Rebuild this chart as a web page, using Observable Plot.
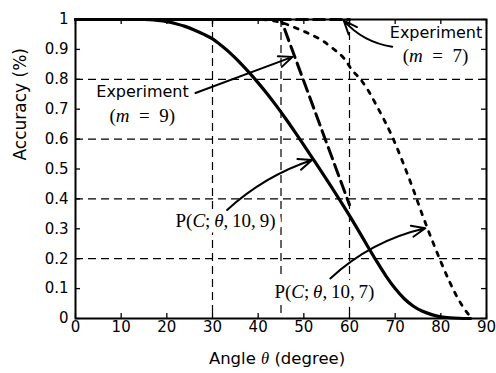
<!DOCTYPE html>
<html>
<head>
<meta charset="utf-8">
<script src="https://cdn.jsdelivr.net/npm/d3@7"></script>
<script src="https://cdn.jsdelivr.net/npm/@observablehq/plot@0.6"></script>
<style>
  html, body { margin: 0; padding: 0; background: #fff; }
  #chart svg { display: block; }
</style>
</head>
<body>
<div id="chart"></div>
<script>
// ---- tick values and labels ----
const xTicks = [0, 10, 20, 30, 40, 50, 60, 70, 80, 90];
const yTicks = [0, 0.1, 0.2, 0.3, 0.4, 0.5, 0.6, 0.7, 0.8, 0.9, 1];
const yTickLabels = ["0", "0.1", "0.2", "0.3", "0.4", "0.5", "0.6", "0.7", "0.8", "0.9", "1"];
const gridX = [30, 45, 60];
const gridY = [0.2, 0.4, 0.6, 0.8];
const xLabel = "Angle θ (degree)";
const yLabel = "Accuracy (%)";

// ---- theory curve P(C; θ, 10, 9) (solid) ----
const thetaP9 = [0, 10, 15, 18, 20, 22, 24, 26, 28, 30, 32, 34, 36, 38, 40, 42, 44, 46, 48, 50, 52, 54, 56, 58, 60, 62, 64, 66, 68, 70, 72, 74, 76, 78, 80, 82, 84, 86.5];
const accP9   = [1, 1, 1, 0.997, 0.993, 0.986, 0.977, 0.965, 0.951, 0.935, 0.912, 0.886, 0.856, 0.823, 0.788, 0.751, 0.711, 0.669, 0.625, 0.58, 0.534, 0.488, 0.441, 0.393, 0.344, 0.293, 0.241, 0.19, 0.142, 0.1, 0.066, 0.041, 0.024, 0.013, 0.006, 0.0025, 0.0008, 0];

// ---- theory curve P(C; θ, 10, 7) (dotted) ----
const thetaP7 = [0, 40, 45, 48.5, 51.5, 54, 56.2, 58.8, 60.6, 62.4, 64.2, 66, 69.6, 72, 74, 76, 78, 80, 82, 84, 86, 87];
const accP7   = [1, 1, 0.99, 0.97, 0.95, 0.93, 0.905, 0.87, 0.83, 0.8, 0.76, 0.71, 0.6, 0.51, 0.43, 0.345, 0.265, 0.19, 0.12, 0.06, 0.015, 0];

// ---- experiments (dashed) ----
const thetaExp = [0, 15, 30, 45, 60];
const accExp9  = [1, 1, 1, 1, 0.38];
const accExp7  = [1, 1, 1, 1, 1];

// ---- annotation texts and their anchor points (data units) ----
const noteText = ["Experiment", "(m\u2002=\u20029)", "Experiment", "(m\u2002=\u20027)", "P(C;\u2009θ,\u200910,\u20099)", "P(C;\u2009θ,\u200910,\u20097)"];
const noteTheta = [14.67, 14.6, 78.94, 78.83, 32.85, 54.5];
const noteAcc   = [0.759, 0.678, 0.954, 0.879, 0.327, 0.088];
const noteSerif = [false, true, false, true, true, true];

// ---- arrows (data units) ----
const arrowX1 = [26.28, 69.35, 33.2, 55.8];
const arrowY1 = [0.754, 0.909, 0.363, 0.134];
const arrowX2 = [47.52, 58.75, 51.8, 76.6];
const arrowY2 = [0.875, 0.996, 0.53, 0.302];
const arrowBend = [0, 20, 12, 15];

// ---- layout ----
const W = 496, H = 373;
const mL = 75, mR = 10, mT = 19, mB = 55;
const innerW = W - mL - mR, innerH = H - mT - mB;
const tickLen = 5;

const toRows = (xs, ys) => xs.map((x, i) => ({theta: x, acc: ys[i]}));

const notesSans = noteText.map((t, i) => i).filter(i => !noteSerif[i]);
const notesSerif = noteText.map((t, i) => i).filter(i => noteSerif[i]);
const serifOpts = {x: i => noteTheta[i], y: i => noteAcc[i], text: i => noteText[i], fontSize: 19, fontFamily: "Liberation Serif"};

const plot = Plot.plot({
  width: W,
  height: H,
  marginLeft: mL,
  marginRight: mR,
  marginTop: mT,
  marginBottom: mB,
  style: {fontFamily: "DejaVu Sans", fontSize: "15px", background: "white", color: "black", overflow: "visible"},
  x: {domain: [0, 90]},
  y: {domain: [0, 1]},
  marks: [
    // dashed grid
    Plot.ruleY(gridY, {stroke: "black", strokeWidth: 1.2, strokeDasharray: "8,5"}),
    Plot.ruleX(gridX, {stroke: "black", strokeWidth: 1.2, strokeDasharray: "8,5"}),
    // white knock-out behind the formula labels
    Plot.text(notesSerif, {...serifOpts, fill: "white", stroke: "white", strokeWidth: 12, strokeLinejoin: "round"}),
    // curves
    Plot.line(toRows(thetaExp, accExp7), {x: "theta", y: "acc", stroke: "black", strokeWidth: 3, strokeDasharray: "11,6"}),
    Plot.line(toRows(thetaP7, accP7), {x: "theta", y: "acc", stroke: "black", strokeWidth: 2.8, strokeDasharray: "4,7", curve: "monotone-x"}),
    Plot.line(toRows(thetaExp, accExp9), {x: "theta", y: "acc", stroke: "black", strokeWidth: 3, strokeDasharray: "12,6"}),
    Plot.line(toRows(thetaP9, accP9), {x: "theta", y: "acc", stroke: "black", strokeWidth: 3.2, curve: "monotone-x"}),
    // frame box
    Plot.frame({stroke: "black", strokeWidth: 2}),
    // inward ticks on all sides
    Plot.ruleX(xTicks, {x: d => d, stroke: "black", strokeWidth: 1.3, insetTop: innerH - tickLen}),
    Plot.ruleX(xTicks, {x: d => d, stroke: "black", strokeWidth: 1.3, insetBottom: innerH - tickLen}),
    Plot.ruleY(yTicks, {y: d => d, stroke: "black", strokeWidth: 1.3, insetRight: innerW - tickLen}),
    Plot.ruleY(yTicks, {y: d => d, stroke: "black", strokeWidth: 1.3, insetLeft: innerW - tickLen}),
    // tick labels
    Plot.axisX({ticks: xTicks, tickSize: 0, tickPadding: 3, label: null, fontSize: 15}),
    Plot.axisY({ticks: yTicks, tickSize: 0, tickPadding: 7, label: null, fontSize: 15, tickFormat: (d, i) => yTickLabels[i]}),
    // axis titles
    Plot.text([xLabel], {frameAnchor: "bottom", text: d => d, dx: -4, dy: 45, fontSize: 16.5, fill: "black"}),
    Plot.text([yLabel], {frameAnchor: "left", text: d => d, rotate: -90, dx: -55, dy: -8.5, fontSize: 17, fill: "black"}),
    // arrows
    ...arrowX1.map((_, i) => Plot.arrow([i], {
      x1: j => arrowX1[j], y1: j => arrowY1[j], x2: j => arrowX2[j], y2: j => arrowY2[j],
      bend: arrowBend[i], stroke: "black", strokeWidth: 2, headLength: 11, headAngle: 45
    })),
    // annotation texts
    Plot.text(notesSans, {x: i => noteTheta[i], y: i => noteAcc[i], text: i => noteText[i], fontSize: 16, fill: "black"}),
    Plot.text(notesSerif, {...serifOpts, fill: "black"})
  ]
});

// Italicize math symbols (real text, tspans)
d3.select(plot).selectAll("text").each(function() {
  const el = this;
  if (el.querySelector("tspan")) return;
  const s = el.textContent;
  let re = null, serifTheta = false;
  if (s === xLabel) { re = /(θ)/; serifTheta = true; }
  else if (noteText.indexOf(s) >= 0 && noteSerif[noteText.indexOf(s)]) { re = /([mCθ])/; }
  if (!re) return;
  el.textContent = "";
  for (const part of s.split(re)) {
    if (!part) continue;
    const ts = document.createElementNS("http://www.w3.org/2000/svg", "tspan");
    ts.textContent = part;
    if (re.test(part) && part.length === 1) {
      ts.setAttribute("font-style", "italic");
      if (serifTheta) ts.setAttribute("font-family", "Liberation Serif");
    }
    el.appendChild(ts);
  }
});

document.getElementById("chart").appendChild(plot);
</script>
</body>
</html>
